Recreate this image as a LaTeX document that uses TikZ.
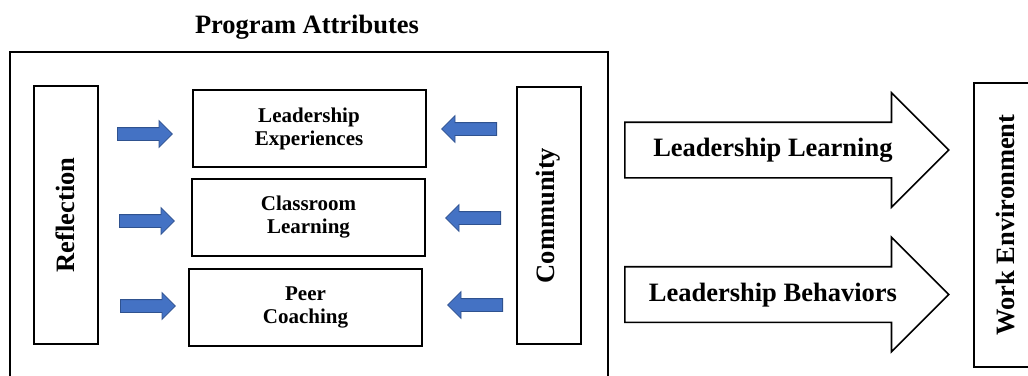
\documentclass[tikz,border=0pt]{standalone}
\usepackage{fontspec}
\setmainfont{Liberation Serif}
\usetikzlibrary{shapes.arrows}
\definecolor{arrowblue}{HTML}{4472C4}
\definecolor{arrowedge}{HTML}{2F528F}
\tikzset{
bigfont/.style={font=\bfseries\fontsize{26.5}{30}\selectfont},
smallfont/.style={font=\bfseries\fontsize{21}{23}\selectfont},
midbox/.style={
	  draw, line width=2pt, smallfont, align=center,
	    minimum width=233pt, minimum height=77pt},
sidebox/.style={
	  draw, line width=2pt, bigfont, rotate=90, minimum height=64pt},
bluearrow/.style={
	  single arrow, fill=arrowblue, draw=arrowedge, line width=0.8pt,
	    minimum height=55pt, minimum width=26pt, inner sep=0pt,
	    inner ysep=6pt, single arrow head extend=7pt},
bigarrow/.style={
	  single arrow, draw, line width=1.6pt, bigfont, text height=18pt,
	    text depth=5pt, inner ysep=15.5pt, minimum height=324pt,
	    minimum width=113pt, single arrow head extend=29.5pt}
}

\begin{document}
\begin{tikzpicture}[x=1pt, y=-1pt]
	\useasboundingbox (0,0) rectangle (1028,375);
	\clip (0,0) rectangle (1028,375);
	\node[bigfont, anchor=base] (title) at (307,33) {Program Attributes};
	\node[draw, line width=2.5pt, minimum width=598pt, minimum height=340pt] (attrs) at (309,222) {};
	\node[sidebox, minimum width=258pt] (refl) at (65.5,215) {Reflection};
	\node[sidebox, minimum width=257pt] (comm) at (548.5,215.5) {Community};
	\node[midbox] (lexp) at (309,128.5) {Leadership\\Experiences};
	\node[midbox] (class) at (308.5,217) {Classroom\\Learning};
	\node[midbox] (peer) at (305.5,307.5) {Peer\\Coaching};
	% arrows into the program attributes
	\node[bluearrow, anchor=tail] (rl1) at (117,134) {};
	\node[bluearrow, anchor=tail] (rl2) at (119,221) {};
	\node[bluearrow, anchor=tail] (rl3) at (120,306) {};
	\node[bluearrow, shape border rotate=180, anchor=tail] (cm1) at (497,129) {};
	\node[bluearrow, shape border rotate=180, anchor=tail] (cm2) at (501,218) {};
	\node[bluearrow, shape border rotate=180, anchor=tail] (cm3) at (503,305) {};
	\node[sidebox, minimum width=284pt, minimum height=62pt] (work) at (1005,225) {Work Environment};
	\node[bigarrow, anchor=tail] (learn) at (624,150) {Leadership Learning};
	\node[bigarrow, anchor=tail] (behav) at (624,294.5) {Leadership Behaviors};
\end{tikzpicture}
\end{document}
